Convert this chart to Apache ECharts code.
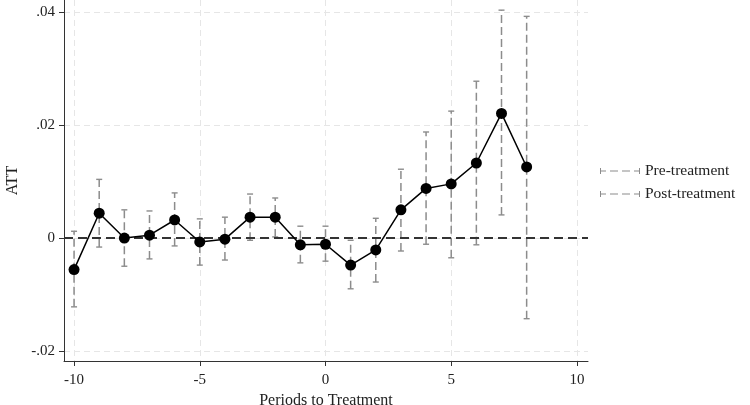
<!DOCTYPE html>
<html>
<head>
<meta charset="utf-8">
<script src="https://cdn.jsdelivr.net/npm/echarts@6/dist/echarts.min.js"></script>
<style>html,body{margin:0;padding:0;background:#fff;}#c{width:750px;height:405px;}</style>
</head>
<body>
<div id="c"></div>
<script>
const periods = [-10,-9,-8,-7,-6,-5,-4,-3,-2,-1,0,1,2,3,4,5,6,7,8];
const att     = [-0.0056,0.0044,0.0000,0.0005,0.0032,-0.0007,-0.0002,0.0037,0.0037,-0.0012,-0.0011,-0.0048,-0.0021,0.0050,0.0088,0.0096,0.0133,0.0221,0.0126];
const ciHigh  = [0.0012,0.0104,0.0050,0.0048,0.0080,0.0034,0.0037,0.0078,0.0071,0.0021,0.0021,-0.0004,0.0035,0.0122,0.0188,0.0225,0.0278,0.0404,0.0393];
const ciLow   = [-0.0122,-0.0016,-0.0050,-0.0037,-0.0014,-0.0048,-0.0039,-0.0004,0.0002,-0.0044,-0.0041,-0.0090,-0.0078,-0.0023,-0.0011,-0.0035,-0.0012,0.0041,-0.0143];
const xTicks = [-10,-5,0,5,10];
const yTicks = [-0.02,0,0.02,0.04];
const yTickLabels = ['-.02','0','.02','.04'];

const preData = [], postData = [];
periods.forEach((p,i)=>{ (p<0?preData:postData).push([p,ciLow[i],ciHigh[i]]); });

const font = 'Liberation Serif';
const barColor = '#8c8c8c';

function renderBar(params, api){
  const x = api.value(0);
  const lo = api.coord([x, api.value(1)]);
  const hi = api.coord([x, api.value(2)]);
  const c = 3;
  const st = {stroke: barColor, lineWidth: 1.4};
  return {type:'group', children:[
    {type:'line', shape:{x1:lo[0],y1:lo[1],x2:hi[0],y2:hi[1]}, style:{stroke:barColor,lineWidth:1.5,lineDash:[8,4]}},
    {type:'line', shape:{x1:lo[0]-c,y1:lo[1],x2:lo[0]+c,y2:lo[1]}, style:st},
    {type:'line', shape:{x1:hi[0]-c,y1:hi[1],x2:hi[0]+c,y2:hi[1]}, style:st}
  ]};
}

const legendIcon = 'path://M0,0h1v6h-1z M0,2.5h6v1h-6z M10,2.5h8v1h-8z M22,2.5h8v1h-8z M34,2.5h6v1h-6z M39,0h1v6h-1z';

const chart = echarts.init(document.getElementById('c'));
chart.setOption({
  animation:false,
  backgroundColor:'#fff',
  grid:{left:64,right:162,top:0,bottom:44,containLabel:false,outerBoundsMode:'none'},
  legend:{
    orient:'vertical', left:600, top:163, padding:0, itemWidth:40, itemHeight:6, itemGap:7,
    textStyle:{fontFamily:font,fontSize:15.5,color:'#222'},
    data:[{name:'Pre-treatment',icon:legendIcon},{name:'Post-treatment',icon:legendIcon}]
  },
  xAxis:{
    type:'value', min:-10.4, max:10.44,
    name:'Periods to Treatment', nameLocation:'middle', nameGap:31,
    nameTextStyle:{fontFamily:font,fontSize:16,color:'#222'},
    axisLine:{show:true,onZero:false,lineStyle:{color:'#333',width:1}},
    axisTick:{show:true,length:5,customValues:xTicks,lineStyle:{color:'#333'}},
    axisLabel:{customValues:xTicks,fontFamily:font,fontSize:15,color:'#222',margin:12},
    splitLine:{show:true,lineStyle:{color:'#e6e6e6',type:[6,4],width:1}}
  },
  yAxis:{
    type:'value', min:-0.0218, max:0.0422,
    name:'ATT', nameLocation:'middle', nameGap:41, nameRotate:90,
    nameTextStyle:{fontFamily:font,fontSize:16,color:'#222'},
    axisLine:{show:true,onZero:false,lineStyle:{color:'#333',width:1}},
    axisTick:{show:true,length:5,customValues:yTicks,lineStyle:{color:'#333'}},
    axisLabel:{customValues:yTicks,fontFamily:font,fontSize:15,color:'#222',margin:9,
      formatter:v=>{const i=yTicks.findIndex(t=>Math.abs(t-v)<1e-9);return i>=0?yTickLabels[i]:'';}},
    splitLine:{show:true,lineStyle:{color:'#e6e6e6',type:[6,4],width:1}}
  },
  series:[
    {name:'Pre-treatment',type:'custom',renderItem:renderBar,data:preData,itemStyle:{color:barColor},z:2,encode:{x:0,y:[1,2]}},
    {name:'Post-treatment',type:'custom',renderItem:renderBar,data:postData,itemStyle:{color:barColor},z:2,encode:{x:0,y:[1,2]}},
    {name:'ATT',type:'line',data:periods.map((p,i)=>[p,att[i]]),symbol:'circle',symbolSize:11,
      lineStyle:{color:'#000',width:1.5},itemStyle:{color:'#000'},z:5,
      markLine:{silent:true,symbol:'none',label:{show:false},
        lineStyle:{color:'#333',type:[9,5],width:2},data:[{yAxis:0}]}}
  ]
});
</script>
</body>
</html>
